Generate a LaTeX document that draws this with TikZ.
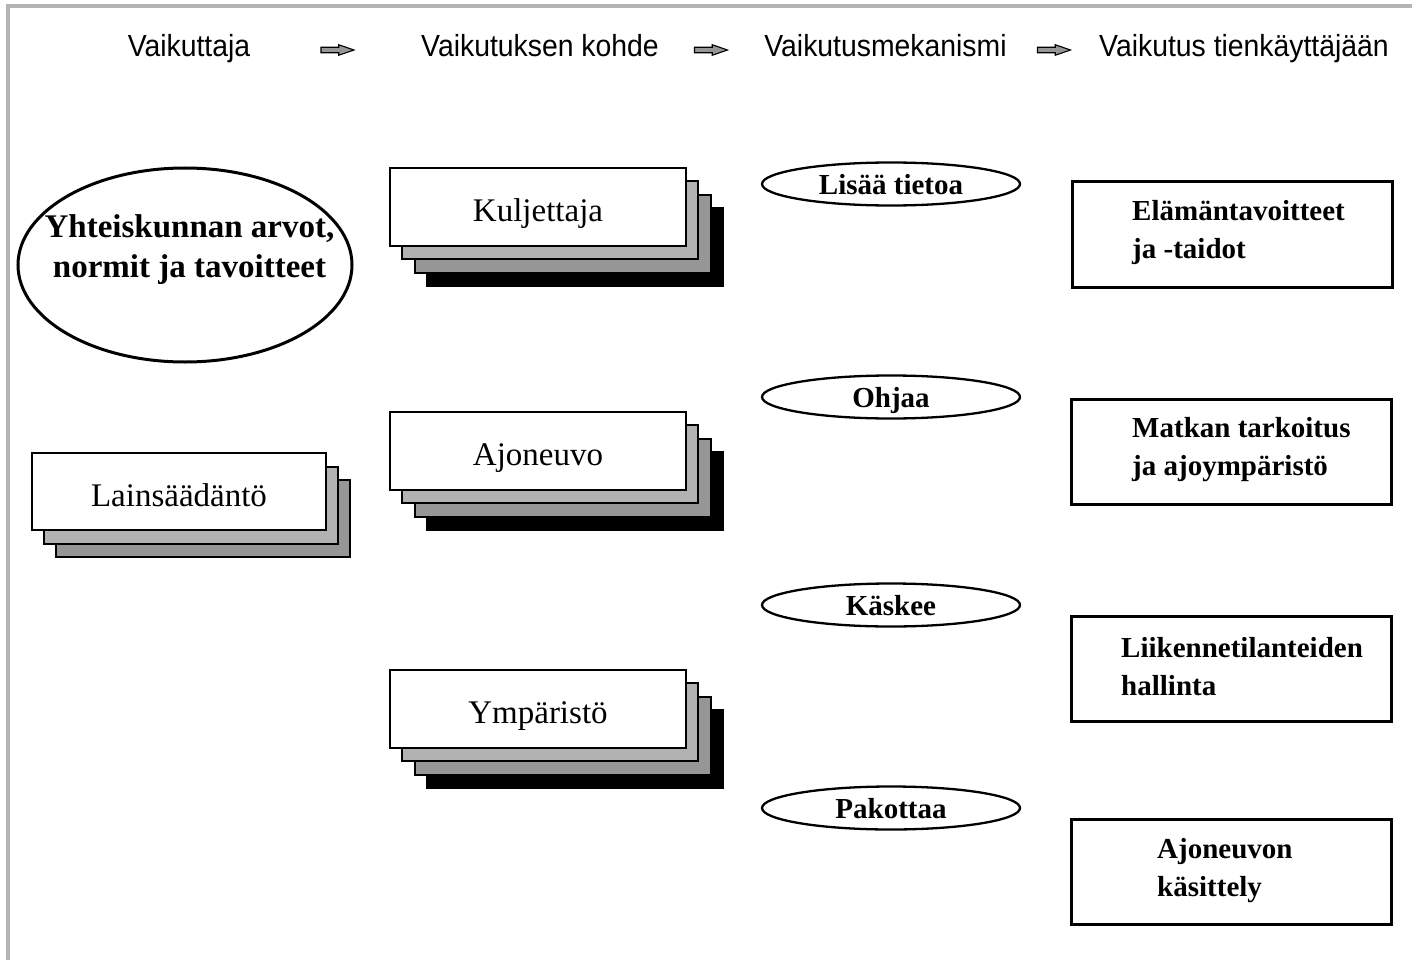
\documentclass[tikz,border=0pt]{standalone}
\usepackage{fontspec}
\setmainfont{Liberation Serif}
\newfontfamily\hdfont[FakeStretch=0.93]{Liberation Sans}
\usetikzlibrary{shapes.geometric,shapes.arrows}
\definecolor{framegray}{HTML}{B4B4B4}
\definecolor{lgray}{HTML}{B2B2B2}
\definecolor{mgray}{HTML}{969696}
\newcommand{\mystackfour}[4]{%
  \node[layer, fill=black] (#1-4) at (#2+37,#3+40) {};
  \node[layer, fill=mgray] (#1-3) at (#2+24.6,#3+26.6) {};
  \node[layer, fill=lgray] (#1-2) at (#2+12.3,#3+13.3) {};
  \node[layer, fill=white, stacktext] (#1) at (#2,#3) {#4};
}
\begin{document}
\begin{tikzpicture}[x=1pt,y=-1pt,
  hdr/.style={font=\hdfont\fontsize{30.5}{32}\selectfont, anchor=base, inner sep=0},
  harrow/.style={single arrow, draw=black, fill=mgray, line width=1.1, minimum height=33,
     single arrow head extend=2.5, single arrow tip angle=38, inner sep=2.2},
  layer/.style={draw=black, line width=2.2, minimum width=296, minimum height=78, inner sep=0},
  stacktext/.style={font=\fontsize{33}{36}\selectfont, text height=29pt, text depth=0pt},
  mech/.style={ellipse, draw=black, line width=2.3, minimum width=258, minimum height=43, inner sep=0,
     font=\bfseries\fontsize{29}{32}\selectfont, text height=20pt, text depth=0pt},
  rbox/.style={draw=black, line width=3, minimum width=320, minimum height=105, inner sep=0},
  rtext/.style={font=\bfseries\fontsize{29}{38}\selectfont, align=left, anchor=west, inner sep=0},
]
\useasboundingbox (0,0) rectangle (1412,960);
% frame
\draw[framegray, line width=4] (6,6) -- (1412,6);
\draw[framegray, line width=4] (8,4) -- (8,960);
% headers
\node[hdr] (h1) at (189,57) {Vaikuttaja};
\node[hdr] (h2) at (540,57) {Vaikutuksen kohde};
\node[hdr] (h3) at (885.5,57) {Vaikutusmekanismi};
\node[hdr] (h4) at (1244,57) {Vaikutus tienkäyttäjään};
\node[harrow] (a1) at (333.5,50) {};
\node[harrow] (a2) at (707,50) {};
\node[harrow] (a3) at (1050,50) {};
% society ellipse
\node[ellipse, draw=black, line width=3, minimum width=334, minimum height=194, inner sep=0] (soc) at (185,265) {};
\node[font=\bfseries\fontsize{33}{40}\selectfont, align=center, inner sep=0] (soct) at (189.5,249.5) {Yhteiskunnan arvot,\\normit ja tavoitteet};
% legislation stack (3 layers)
\node[layer, minimum width=294, minimum height=77, fill=mgray] (lain-3) at (179+24,491.5+27) {};
\node[layer, minimum width=294, minimum height=77, fill=lgray] (lain-2) at (179+12,491.5+14) {};
\node[layer, minimum width=294, minimum height=77, fill=white, stacktext] (lain) at (179,491.5) {Lainsäädäntö};
% target stacks
\mystackfour{kul}{538}{207}{Kuljettaja}
\mystackfour{ajo}{538}{451}{Ajoneuvo}
\mystackfour{ymp}{538}{709}{Ympäristö}
% mechanisms
\node[mech] (m1) at (891,184) {Lisää tietoa};
\node[mech] (m2) at (891,397) {Ohjaa};
\node[mech] (m3) at (891,605) {Käskee};
\node[mech] (m4) at (891,808) {Pakottaa};
% effects
\node[rbox] (r1) at (1232,234.5) {};
\node[rtext] (r1t) at (1132,233) {Elämäntavoitteet\\ja -taidot};
\node[rbox] (r2) at (1231.5,451.5) {};
\node[rtext] (r2t) at (1132,450) {Matkan tarkoitus\\ja ajoympäristö};
\node[rbox] (r3) at (1231,668.5) {};
\node[rtext] (r3t) at (1121,667) {Liikennetilanteiden\\hallinta};
\node[rbox] (r4) at (1231.5,872) {};
\node[rtext] (r4t) at (1157,871) {Ajoneuvon\\käsittely};
\end{tikzpicture}
\end{document}
